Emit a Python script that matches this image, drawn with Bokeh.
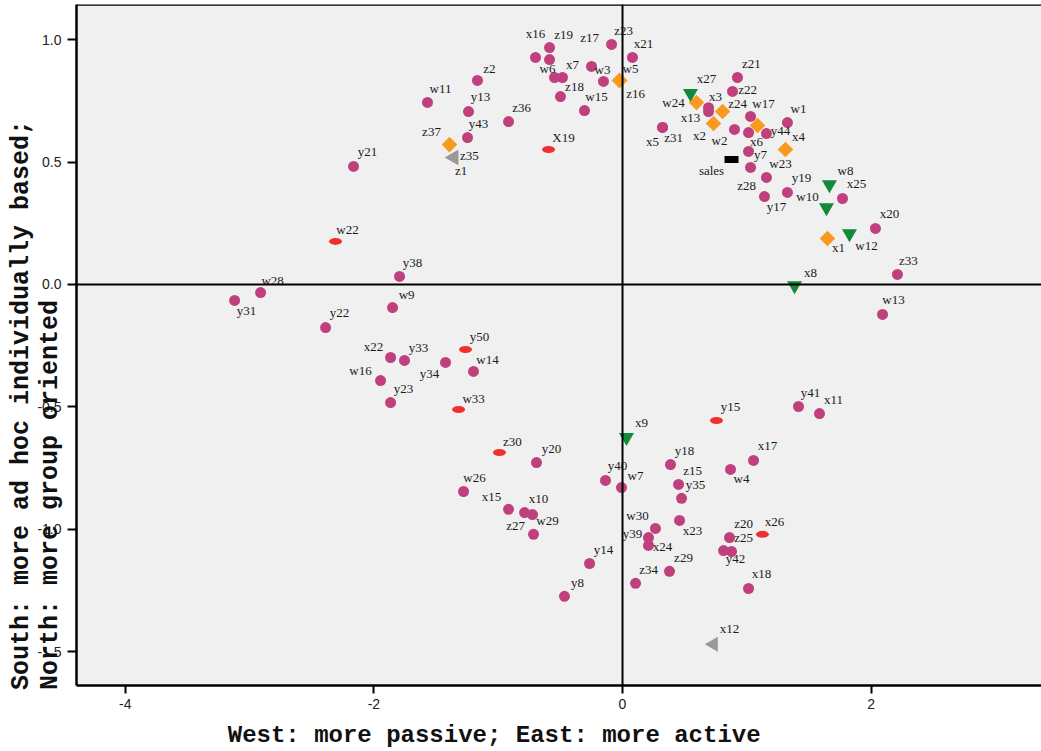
import math
from bokeh.plotting import figure
from bokeh.models import ColumnDataSource, Span, FixedTicker, PrintfTickFormatter, Range1d
from bokeh.core.properties import value
from bokeh.embed import file_html
from bokeh.resources import INLINE

# ---------------- data ----------------
circle_names = ["x16", "z19", "", "w6", "x7", "z17", "z23", "x21", "w3", "z18", "w15", "z2", "w11", "y13",
                "z36", "y43", "y21", "z21", "z22", "x3", "x13", "w17", "w1", "w2", "x6", "y44", "y7", "w23",
                "z28", "y19", "y17", "x25", "x20", "z33", "w13", "x5", "z31", "w28", "y31", "w9", "y22", "y38",
                "x22", "y33", "y34", "w14", "w16", "y23", "y20", "w26", "x15", "x10", "z27", "w29", "y40", "w7",
                "y18", "z15", "y35", "x17", "w4", "x23", "w30", "y39", "x24", "z20", "z25", "y42", "y14", "y8",
                "z34", "z29", "x18", "y41", "x11"]
circle_x = [-0.700, -0.587, -0.587, -0.547, -0.483, -0.249, -0.088, 0.080, -0.153, -0.499, -0.306, -1.167,
            -1.569, -1.239, -0.917, -1.247, -2.164, 0.925, 0.885, 0.692, 0.692, 1.030, 1.327, 0.901, 1.014,
            1.158, 1.014, 1.158, 1.030, 1.327, 1.142, 1.770, 2.035, 2.212, 2.092, 0.322, 0.322, -2.912, -3.121,
            -1.850, -2.389, -1.794, -1.866, -1.754, -1.424, -1.199, -1.947, -1.866, -0.692, -1.279, -0.917,
            -0.724, -0.788, -0.716, -0.137, -0.008, 0.386, 0.451, 0.475, 1.054, 0.869, 0.459, 0.265, 0.209,
            0.209, 0.861, 0.877, 0.813, -0.265, -0.467, 0.105, 0.378, 1.014, 1.416, 1.585]
circle_y = [0.927, 0.967, 0.918, 0.845, 0.845, 0.890, 0.980, 0.927, 0.829, 0.767, 0.710, 0.833, 0.743, 0.706,
            0.665, 0.600, 0.482, 0.845, 0.788, 0.722, 0.706, 0.686, 0.661, 0.633, 0.620, 0.616, 0.543, 0.437,
            0.478, 0.376, 0.359, 0.351, 0.229, 0.041, -0.122, 0.641, 0.641, -0.033, -0.065, -0.094, -0.176,
            0.033, -0.298, -0.310, -0.318, -0.355, -0.392, -0.482, -0.727, -0.845, -0.918, -0.939, -0.931,
            -1.020, -0.800, -0.829, -0.735, -0.816, -0.873, -0.718, -0.755, -0.963, -0.996, -1.033, -1.065,
            -1.033, -1.090, -1.086, -1.139, -1.273, -1.220, -1.171, -1.241, -0.498, -0.527]

diamond_names = ["w5", "z16", "w24", "z24", "x2", "", "x4", "x1", "z37"]
diamond_x = [-0.024, -0.024, 0.595, 0.805, 0.732, 1.086, 1.311, 1.649, -1.392]
diamond_y = [0.833, 0.833, 0.743, 0.706, 0.657, 0.649, 0.551, 0.188, 0.571]

green_names = ["x27", "w8", "w10", "w12", "x8", "x9"]
green_x = [0.547, 1.665, 1.641, 1.826, 1.384, 0.032]
green_y = [0.780, 0.408, 0.314, 0.208, -0.004, -0.624]

red_names = ["X19", "w22", "y50", "w33", "z30", "y15", "x26"]
red_x = [-0.595, -2.309, -1.263, -1.319, -0.990, 0.756, 1.126]
red_y = [0.551, 0.176, -0.265, -0.510, -0.686, -0.555, -1.020]

grey_names = ["z35", "z1", "x12"]
grey_x = [-1.360, -1.355, 0.732]
grey_y = [0.518, 0.518, -1.469]

black_names = ["sales"]
black_x = [0.877]
black_y = [0.510]

x_ticks = [-4, -2, 0, 2]
y_ticks = [1.0, 0.5, 0.0, -0.5, -1.0, -1.5]

x_title = "West: more passive; East: more active"
y_title_1 = "South: more ad hoc individually based;"
y_title_2 = "North: more group oriented"

# label placement offsets (screen pixels; positive dy = down)
circle_dx = [0, 14, 0, -7, 10, -2, 12, 11, -1, 14, 12, 12, 13, 12, 13, 11, 14, 14, 15, 7, -18, 13, 11, -15, 8,
             14, 12, 14, -4, 14, 12, 14, 14, 11, 11, -10, 11, 12, 12, 14, 14, 13, -17, 14, -16, 14, -20, 13,
             15, 11, -17, 6, -9, 14, 12, 14, 14, 14, 14, 14, 11, 13, -18, -16, 14, 14, 12, 12, 14, 13, 13,
             14, 13, 12, 14]
circle_dy = [-24, -13, 0, -9, -13, -29, -14, -14, -12, -10, -14, -12, -14, -15, -14, -14, -15, -14, -2, -11,
             6, -13, -14, 11, 9, -3, 3, -14, 18, -15, 10, -15, -15, -14, -15, 14, 10, -12, 10, -13, -15, -14,
             -11, -13, 11, -12, -10, -14, -14, -14, -13, -16, 13, -14, -15, -12, -14, -14, -14, -15, 9, 10,
             -13, -4, 1, -14, -14, 8, -14, -14, -14, -14, -15, -14, -14]
diamond_dx = [11, 16, -23, 15, -14, 0, 13, 11, -18]
diamond_dy = [-12, 13, 0, -8, 12, 0, -13, 9, -13]
green_dx = [16, 16, -19, 17, 16, 15]
green_dy = [-15, -14, -11, 12, -13, -15]
red_dx = [15, 12, 14, 15, 13, 14, 12]
red_dy = [-12, -12, -13, -11, -11, -14, -13]
grey_dx = [16, 7, 16]
grey_dy = [-2, 13, -16]
black_dx = [-20]
black_dy = [11]

# ---------------- figure ----------------
p = figure(width=1041, height=751, output_backend="svg", toolbar_location=None,
           x_range=Range1d(-4.393, 3.371), y_range=Range1d(-1.637, 1.143))
p.min_border_left = 76
p.min_border_right = 0
p.min_border_top = 4
p.min_border_bottom = 66
p.background_fill_color = "#f0f0f0"
p.border_fill_color = "white"
p.outline_line_color = None
p.grid.visible = False

for ax in (p.xaxis[0], p.yaxis[0]):
    ax.axis_line_color = "black"
    ax.axis_line_width = 2.5
    ax.major_tick_line_color = "black"
    ax.major_tick_line_width = 2
    ax.major_tick_in = 0
    ax.minor_tick_line_color = None
    ax.major_label_text_font = "Liberation Sans"
    ax.major_label_text_font_size = "14px"
    ax.major_label_text_color = "#222222"
    ax.axis_label_text_font = "Liberation Mono"
    ax.axis_label_text_font_style = "bold"
    ax.axis_label_text_color = "#111111"

p.xaxis.ticker = FixedTicker(ticks=x_ticks)
p.xaxis.formatter = PrintfTickFormatter(format="%d")
p.yaxis.ticker = FixedTicker(ticks=y_ticks)
p.yaxis.formatter = PrintfTickFormatter(format="%.1f")
p.xaxis.major_tick_out = 8
p.yaxis.major_tick_out = 9
p.xaxis.major_label_standoff = 5
p.yaxis.major_label_standoff = 6

# axis titles: padded with no-break spaces so that the visible text sits where the reference has it
NB = "\u00a0"
width_chars = 46
p.xaxis.axis_label = x_title + NB * 9
p.xaxis.axis_label_text_font_size = "24px"
p.xaxis.axis_label_text_line_height = 1.0
p.xaxis.axis_label_standoff = 10
p.yaxis.axis_label = (y_title_1 + NB * (width_chars - len(y_title_1)) + "\n" +
                      y_title_2 + NB * (width_chars - len(y_title_2)))
p.yaxis.axis_label_text_font_size = "25px"
p.yaxis.axis_label_text_line_height = 1.0
p.yaxis.axis_label_standoff = -31

# reference lines
p.add_layout(Span(location=0, dimension="height", line_color="black", line_width=2))
p.add_layout(Span(location=0, dimension="width", line_color="black", line_width=2))
p.add_layout(Span(location=1.143, dimension="width", line_color="black", line_width=2.5))

label_font = value("Liberation Serif")

def add_labels(names, xs, ys, dxs, dys):
    src = ColumnDataSource(dict(x=xs, y=ys, t=names, dx=dxs, dy=dys))
    p.text(x="x", y="y", text="t", x_offset="dx", y_offset="dy", source=src,
           text_font=label_font, text_font_size="13px", text_color="#1a1a1a",
           text_align="center", text_baseline="middle")

# markers
p.scatter(circle_x, circle_y, marker="circle", size=11, fill_color="#c0407e", line_color=None)
p.scatter(diamond_x, diamond_y, marker="square", angle=math.pi / 4, size=11,
          fill_color="#f99a1f", line_color=None)
p.scatter(green_x, green_y, marker="inverted_triangle", size=15, fill_color="#13893c", line_color=None)
p.ellipse(red_x, red_y, width=13, height=7, width_units="screen", height_units="screen",
          fill_color="#ee3030", line_color=None)
p.scatter(grey_x, grey_y, marker="triangle", angle=math.pi / 2, size=15,
          fill_color="#999999", line_color=None)
p.rect(black_x, black_y, width=14, height=7, width_units="screen", height_units="screen",
       fill_color="black", line_color=None)

add_labels(circle_names, circle_x, circle_y, circle_dx, circle_dy)
add_labels(diamond_names, diamond_x, diamond_y, diamond_dx, diamond_dy)
add_labels(green_names, green_x, green_y, green_dx, green_dy)
add_labels(red_names, red_x, red_y, red_dx, red_dy)
add_labels(grey_names, grey_x, grey_y, grey_dx, grey_dy)
add_labels(black_names, black_x, black_y, black_dx, black_dy)

open("out.html", "w").write(file_html(p, INLINE))
